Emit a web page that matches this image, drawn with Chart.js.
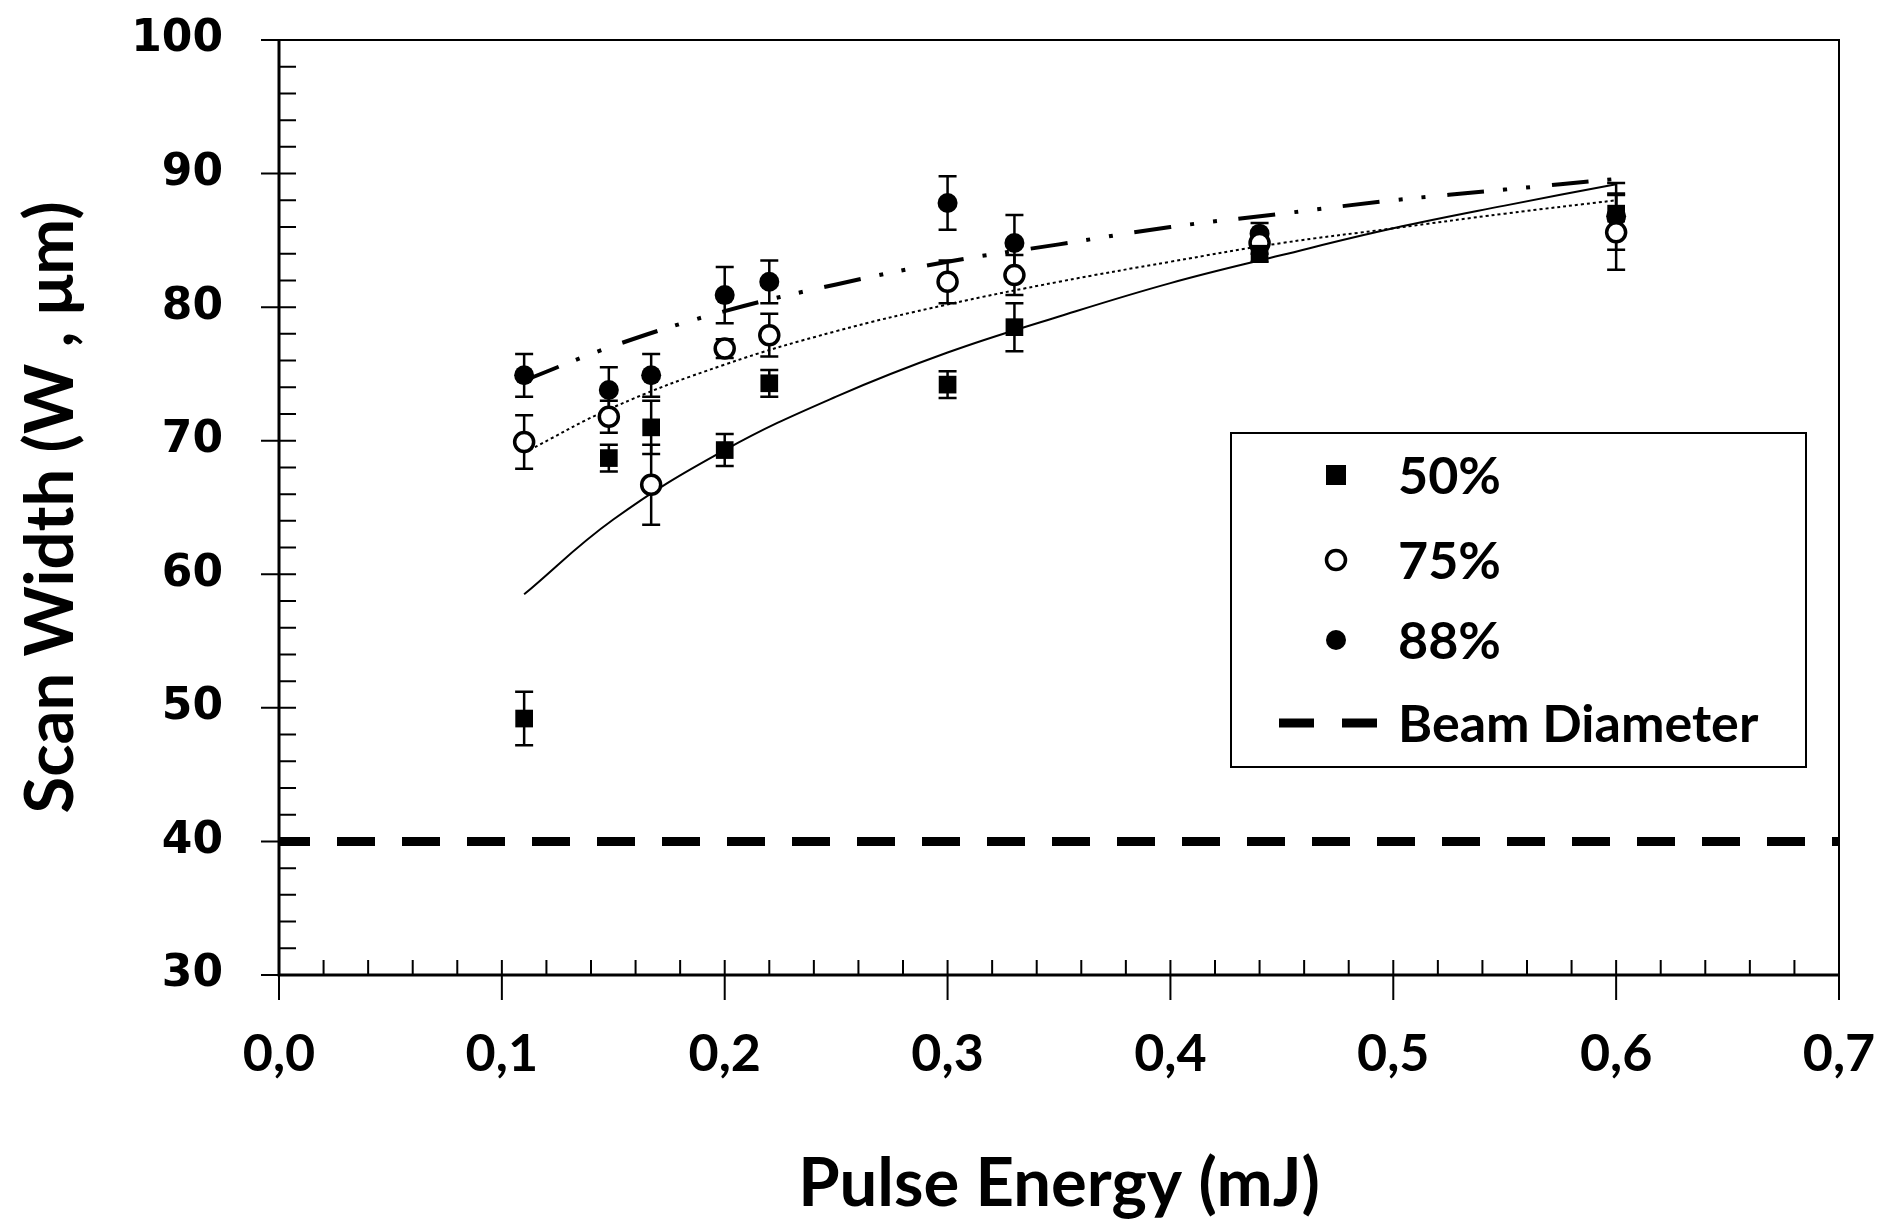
<!DOCTYPE html>
<html>
<head>
<meta charset="utf-8">
<title>Scan Width vs Pulse Energy</title>
<script src="https://cdn.jsdelivr.net/npm/chart.js@4"></script>
<style>
  body { margin: 0; background: #fff; }
  #wrap { width: 1887px; height: 1220px; }
</style>
</head>
<body>
<div id="wrap"><canvas id="scanChart" width="1887" height="1220"></canvas></div>
<script>
// measured points (pulse energy in mJ, scan width in um)
const energy = [0.11, 0.148, 0.167, 0.2, 0.22, 0.3, 0.33, 0.44, 0.6];
const width50 = [49.2, 68.7, 71.0, 69.3, 74.3, 74.2, 78.5, 84.0, 87.0];
const err50 = [2.0, 1.0, 2.0, 1.2, 1.0, 1.0, 1.8, 0.6, 1.5];
const width75 = [69.9, 71.8, 66.7, 76.9, 77.9, 81.9, 82.4, 84.8, 85.6];
const err75 = [2.0, 1.2, 3.0, 0.7, 1.6, 1.6, 1.5, 0.8, 2.8];
const width88 = [74.9, 73.8, 74.9, 80.9, 81.9, 87.8, 84.8, 85.5, 86.8];
const err88 = [1.6, 1.7, 1.6, 2.1, 1.6, 2.0, 2.1, 0.8, 2.5];

// trend lines
const fitEnergy = [0.11, 0.15, 0.2, 0.25, 0.3, 0.35, 0.4, 0.45, 0.5, 0.55, 0.6];
const fit50 = [58.5, 64.1, 69.3, 73.3, 76.6, 79.3, 81.8, 83.9, 85.9, 87.6, 89.2];
const fit75 = [69.1, 72.5, 75.7, 78.2, 80.2, 81.9, 83.4, 84.8, 85.9, 87.0, 88.0];
const fit88 = [74.5, 77.1, 79.7, 81.7, 83.4, 84.7, 86.0, 87.0, 88.0, 88.8, 89.6];

const beamDiameter = 40;
const xTicks = [0, 0.1, 0.2, 0.3, 0.4, 0.5, 0.6, 0.7];
const yTicks = [30, 40, 50, 60, 70, 80, 90, 100];

const legendItems = ["50%", "75%", "88%", "Beam Diameter"];

const toPoints = (xs, ys) => xs.map((x, i) => ({ x: x, y: ys[i] }));

// error bars + axis ticks + frame + legend
const axisDecor = {
  id: "axisDecor",
  beforeDatasetsDraw(chart) {
    const c = chart.ctx;
    const xs = chart.scales.x;
    const ys = chart.scales.y;
    c.save();
    c.strokeStyle = "#000";
    c.lineWidth = 2.5;
    [[width50, err50], [width75, err75], [width88, err88]].forEach(([vals, errs]) => {
      vals.forEach((v, i) => {
        const px = xs.getPixelForValue(energy[i]);
        const top = ys.getPixelForValue(v + errs[i]);
        const bot = ys.getPixelForValue(v - errs[i]);
        c.beginPath();
        c.moveTo(px, top);
        c.lineTo(px, bot);
        c.moveTo(px - 9, top);
        c.lineTo(px + 9, top);
        c.moveTo(px - 9, bot);
        c.lineTo(px + 9, bot);
        c.stroke();
      });
    });
    c.restore();
  },
  afterDraw(chart) {
    const c = chart.ctx;
    const a = chart.chartArea;
    const xs = chart.scales.x;
    const ys = chart.scales.y;
    c.save();
    c.strokeStyle = "#000";

    // frame
    c.lineWidth = 2;
    c.beginPath();
    c.moveTo(a.left, a.top);
    c.lineTo(a.right, a.top);
    c.lineTo(a.right, a.bottom);
    c.stroke();
    c.lineWidth = 3;
    c.beginPath();
    c.moveTo(a.left, a.top);
    c.lineTo(a.left, a.bottom);
    c.lineTo(a.right, a.bottom);
    c.stroke();

    // y ticks: minor every 2 inward, major every 10 crossing
    c.lineWidth = 2;
    c.beginPath();
    for (let v = 30; v <= 100; v += 2) {
      const py = ys.getPixelForValue(v);
      const major = v % 10 === 0;
      c.moveTo(a.left - (major ? 18 : 0), py);
      c.lineTo(a.left + 17, py);
    }
    // x ticks: minor every 0.02 inward, major every 0.1 crossing
    for (let k = 0; k <= 35; k++) {
      const px = xs.getPixelForValue(k * 0.02);
      const major = k % 5 === 0;
      c.moveTo(px, a.bottom - 15);
      c.lineTo(px, a.bottom + (major ? 25 : 0));
    }
    c.stroke();

    // legend box
    const box = { left: 1231, top: 433, right: 1806, bottom: 767 };
    c.lineWidth = 2;
    c.strokeRect(box.left, box.top, box.right - box.left, box.bottom - box.top);
    const rows = [475, 560, 640, 723];
    const markX = 1336;
    c.fillStyle = "#000";
    c.fillRect(markX - 10, rows[0] - 10, 20, 20);
    c.lineWidth = 3.5;
    c.beginPath();
    c.arc(markX, rows[1], 9.5, 0, Math.PI * 2);
    c.stroke();
    c.beginPath();
    c.arc(markX, rows[2], 10, 0, Math.PI * 2);
    c.fill();
    c.lineWidth = 9;
    c.beginPath();
    c.moveTo(1279, rows[3]);
    c.lineTo(1314, rows[3]);
    c.moveTo(1342, rows[3]);
    c.lineTo(1377, rows[3]);
    c.stroke();

    c.font = "bold 52px Lato";
    c.textBaseline = "middle";
    c.textAlign = "left";
    legendItems.forEach((t, i) => c.fillText(t, 1398, rows[i] + 2));
    c.restore();
  },
};

const ctx = document.getElementById("scanChart").getContext("2d");

new Chart(ctx, {
  type: "scatter",
  data: {
    datasets: [
      {
        label: "50%",
        data: toPoints(energy, width50),
        pointStyle: "rect",
        pointRadius: 12.5,
        backgroundColor: "#000",
        borderColor: "#000",
        borderWidth: 0,
        order: 0,
      },
      {
        label: "75%",
        data: toPoints(energy, width75),
        pointStyle: "circle",
        pointRadius: 9.5,
        backgroundColor: "#fff",
        borderColor: "#000",
        borderWidth: 3.5,
        order: 0,
      },
      {
        label: "88%",
        data: toPoints(energy, width88),
        pointStyle: "circle",
        pointRadius: 10,
        backgroundColor: "#000",
        borderColor: "#000",
        borderWidth: 0,
        order: 0,
      },
      {
        label: "fit 50%",
        type: "line",
        data: toPoints(fitEnergy, fit50),
        borderColor: "#000",
        borderWidth: 2,
        pointRadius: 0,
        tension: 0.4,
        order: 1,
      },
      {
        label: "fit 75%",
        type: "line",
        data: toPoints(fitEnergy, fit75),
        borderColor: "#000",
        borderWidth: 2,
        borderDash: [3, 3],
        pointRadius: 0,
        tension: 0.4,
        order: 1,
      },
      {
        label: "fit 88%",
        type: "line",
        data: toPoints(fitEnergy, fit88),
        borderColor: "#000",
        borderWidth: 4,
        borderDash: [37, 19, 4, 19, 4, 22],
        pointRadius: 0,
        tension: 0.4,
        order: 1,
      },
      {
        label: "Beam Diameter",
        type: "line",
        data: [
          { x: xTicks[0], y: beamDiameter },
          { x: xTicks[xTicks.length - 1], y: beamDiameter },
        ],
        borderColor: "#000",
        borderWidth: 9,
        borderDash: [38, 27],
        borderDashOffset: 7,
        pointRadius: 0,
        order: 2,
      },
    ],
  },
  options: {
    responsive: false,
    animation: false,
    layout: { padding: { top: 40, right: 48, left: 0, bottom: 0 } },
    plugins: {
      legend: { display: false },
      tooltip: { enabled: false },
    },
    scales: {
      x: {
        type: "linear",
        min: 0,
        max: 0.7,
        afterBuildTicks: (scale) => {
          scale.ticks = xTicks.map((v) => ({ value: v }));
        },
        afterFit: (scale) => {
          scale.height = 245;
        },
        // tick marks are drawn by the plugin; tickLength only spaces the labels
        grid: { display: false, drawTicks: true, tickLength: 48 },
        border: { display: false },
        ticks: {
          padding: 0,
          color: "#000",
          font: { family: "Lato", weight: "bold", size: 52 },
          callback: (v) => v.toFixed(1).replace(".", ","),
        },
        title: {
          display: true,
          text: "Pulse Energy (mJ)",
          color: "#000",
          font: { family: "Lato", weight: "bold", size: 67, lineHeight: 1.05 },
          padding: { top: 0, bottom: 0 },
        },
      },
      y: {
        type: "linear",
        min: 30,
        max: 100,
        afterBuildTicks: (scale) => {
          scale.ticks = yTicks.map((v) => ({ value: v }));
        },
        afterFit: (scale) => {
          scale.width = 279;
        },
        grid: { display: false, drawTicks: true, tickLength: 56 },
        border: { display: false },
        ticks: {
          padding: 0,
          color: "#000",
          font: { family: "DejaVu Sans", weight: "bold", size: 44 },
        },
        title: {
          display: true,
          text: "Scan Width (W , μm)",
          color: "#000",
          font: { family: "Lato", weight: "bold", size: 67, lineHeight: 1.05 },
          padding: { top: 16, bottom: 0 },
        },
      },
    },
  },
  plugins: [axisDecor],
});
</script>
</body>
</html>
